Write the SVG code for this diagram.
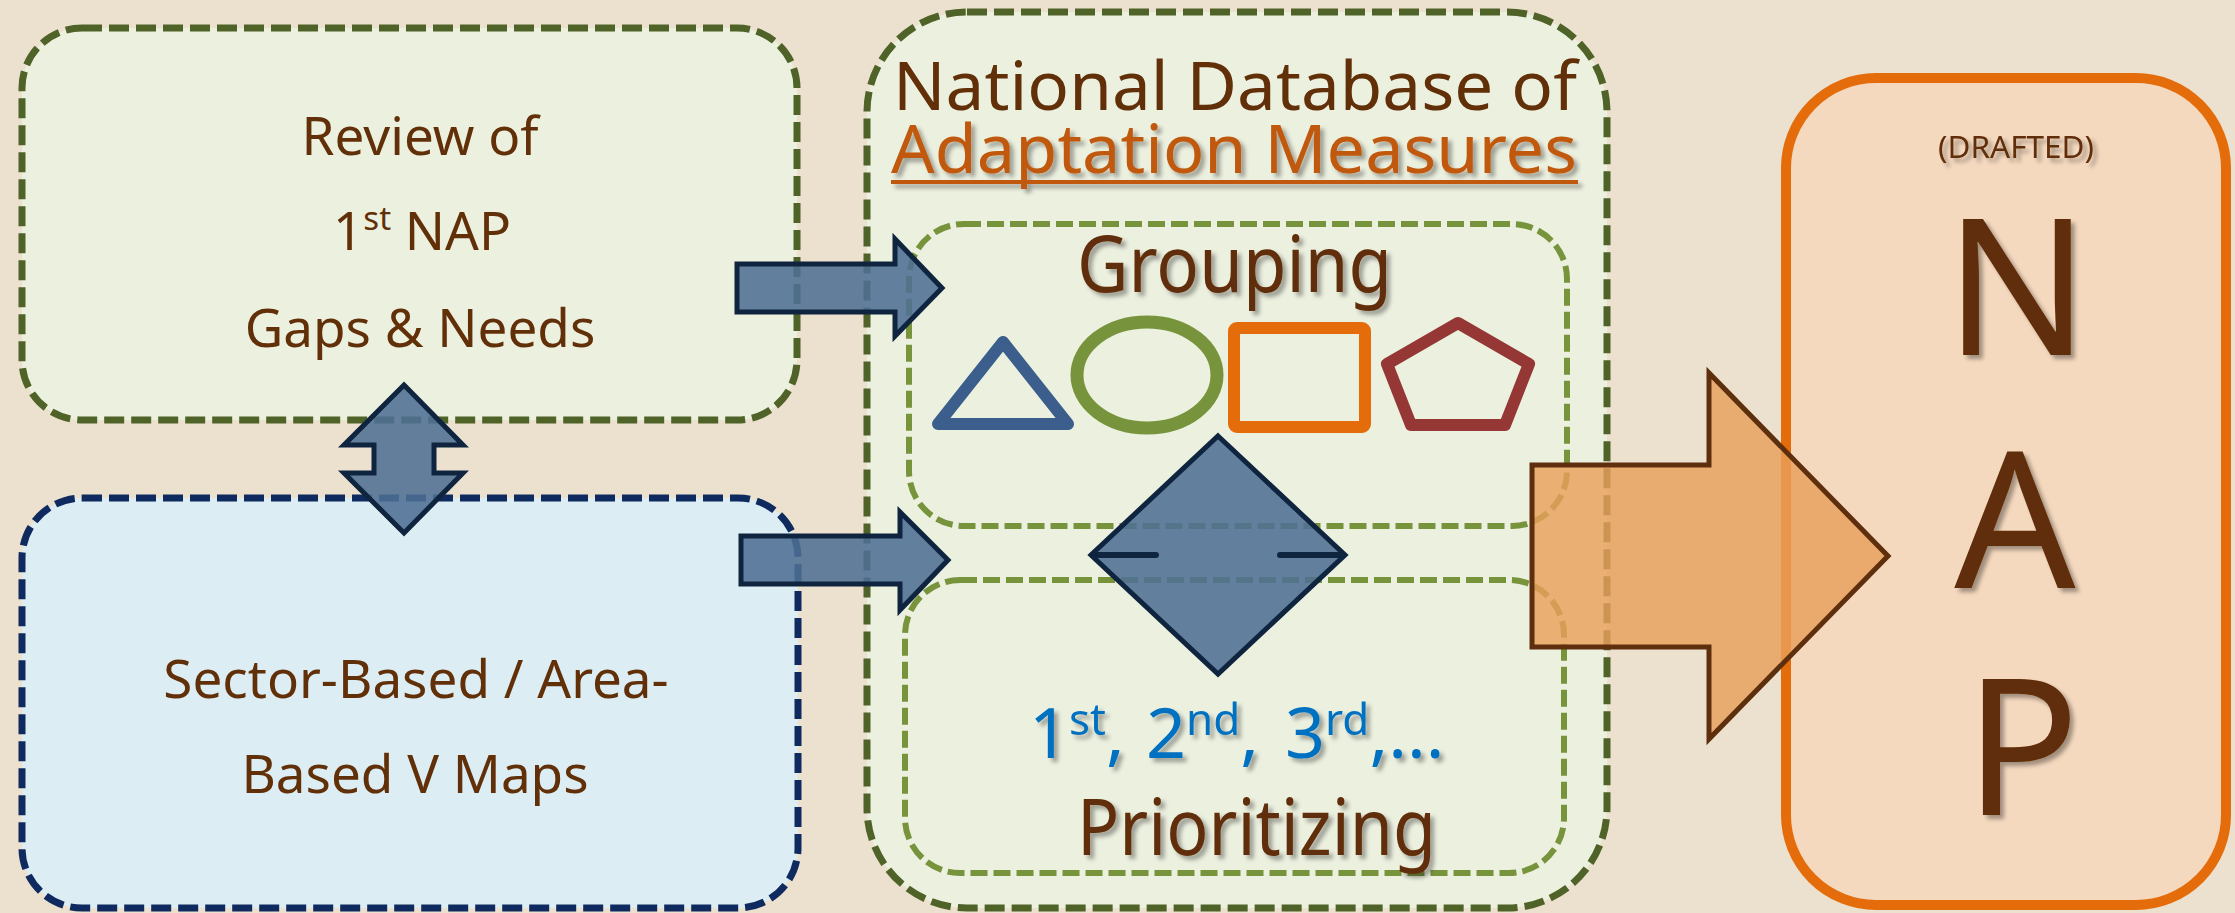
<svg xmlns="http://www.w3.org/2000/svg" width="2235" height="913" viewBox="0 0 2235 913">
<defs>
<style>
.t{font-family:"Noto Sans","Open Sans","DejaVu Sans",sans-serif;fill:#612F08}
.outer{fill:#ECF0DF;stroke:#4F6228;stroke-width:7;stroke-dasharray:20 7}
.inner{fill:none;stroke:#77933C;stroke-width:6;stroke-dasharray:17 6}
.barrow{fill:#4F6F94;fill-opacity:0.88;stroke:#0F243E;stroke-width:5;stroke-linejoin:miter}
.sh{filter:url(#shadow)}
</style>
<filter id="shadow" x="-10%" y="-10%" width="130%" height="140%">
<feDropShadow dx="4" dy="4" stdDeviation="2" flood-color="#000" flood-opacity="0.35"/>
</filter>
</defs>
<rect x="0" y="0" width="2235" height="913" fill="#ECE0CE"/>

<g id="review-box">
<rect class="outer" x="22" y="28" width="775" height="392" rx="60" ry="60"/>
<text class="t" x="420" y="155" font-size="53" text-anchor="middle">Review of</text>
<text class="t" x="333" y="250" font-size="53">1<tspan font-size="33" dy="-20">st</tspan><tspan dy="20"> NAP</tspan></text>
<text class="t" x="420" y="347" font-size="53" text-anchor="middle">Gaps &amp; Needs</text>
</g>

<g id="vmaps-box">
<rect x="22" y="498" width="776" height="410" rx="60" ry="60" fill="#DCEEF4" stroke="#0F2A5F" stroke-width="7" stroke-dasharray="20 7"/>
<text class="t" x="416" y="698" font-size="53" text-anchor="middle">Sector-Based / Area-</text>
<text class="t" x="415" y="793" font-size="53" text-anchor="middle">Based V Maps</text>
</g>

<g id="database">
<rect class="outer" x="867" y="12" width="740" height="896" rx="100" ry="100"/>
<text class="t" x="893" y="110" font-size="68" textLength="684" lengthAdjust="spacingAndGlyphs">National Database of</text>
<g class="sh">
<text class="t" x="891" y="173" font-size="68" style="fill:#C0580A" textLength="686" lengthAdjust="spacingAndGlyphs">Adaptation Measures</text>
<rect x="891" y="180" width="687" height="4" fill="#C0580A"/>
</g>
</g>

<g id="grouping">
<rect class="inner" x="909" y="224" width="658" height="302" rx="55" ry="55"/>
<text class="t sh" x="1077" y="292" font-size="78" textLength="315" lengthAdjust="spacingAndGlyphs">Grouping</text>
<polygon points="1003,342 1068,424 938,424" fill="none" stroke="#3B5E8C" stroke-width="12" stroke-linejoin="round"/>
<ellipse cx="1147" cy="375" rx="70" ry="53" fill="none" stroke="#77933C" stroke-width="13"/>
<rect x="1234" y="328" width="131" height="99" rx="3" fill="none" stroke="#E46C0A" stroke-width="12"/>
<polygon points="1458,323 1529,364 1505,425 1411,425 1387,364" fill="none" stroke="#953735" stroke-width="12" stroke-linejoin="round"/>
</g>

<g id="prioritizing">
<rect class="inner" x="905" y="580" width="659" height="293" rx="55" ry="55"/>
<text class="t sh" x="1029" y="758" font-size="70" style="fill:#0070C0">1<tspan font-size="44" dy="-23">st</tspan><tspan dy="23">, </tspan><tspan x="1146">2</tspan><tspan font-size="44" dy="-23">nd</tspan><tspan dy="23">, </tspan><tspan x="1285">3</tspan><tspan font-size="44" dy="-23">rd</tspan><tspan dy="23">,...</tspan></text>
<text class="t sh" x="1077" y="855" font-size="78" textLength="359" lengthAdjust="spacingAndGlyphs">Prioritizing</text>
</g>

<g id="diamond">
<polygon points="1218,436 1345,555 1218,674 1091,555" fill="#4F6F94" fill-opacity="0.88" stroke="#0F243E" stroke-width="5" stroke-linejoin="miter"/>
<line x1="1093" y1="555" x2="1156" y2="555" stroke="#0F243E" stroke-width="6" stroke-linecap="round"/>
<line x1="1280" y1="555" x2="1343" y2="555" stroke="#0F243E" stroke-width="6" stroke-linecap="round"/>
</g>

<g id="nap-box">
<rect x="1786" y="78" width="440" height="827" rx="90" ry="90" fill="#F5D9BF" stroke="#E46C0A" stroke-width="10"/>
<text class="t sh" x="2016" y="158" font-size="30" text-anchor="middle" textLength="156" lengthAdjust="spacingAndGlyphs">(DRAFTED)</text>
<text class="t sh" x="2017" y="355" font-size="190" text-anchor="middle">N</text>
<text class="t sh" x="2015" y="588" font-size="190" text-anchor="middle">A</text>
<text class="t sh" x="2022" y="815" font-size="190" text-anchor="middle">P</text>
</g>

<g id="connectors">
<polygon class="barrow" points="737,264 895,264 895,239 942,288 895,336 895,312 737,312"/>
<polygon class="barrow" points="741,536 900,536 900,512 948,560 900,610 900,584 741,584"/>
<polygon class="barrow" points="404,385 463,445 434,445 434,473 463,473 404,533 344,473 374,473 374,445 344,445"/>
<polygon points="1532,465 1709,465 1709,373 1888,556 1709,739 1709,647 1532,647" fill="#E8A05C" fill-opacity="0.82" stroke="#5E2F0D" stroke-width="5"/>
</g>
</svg>
